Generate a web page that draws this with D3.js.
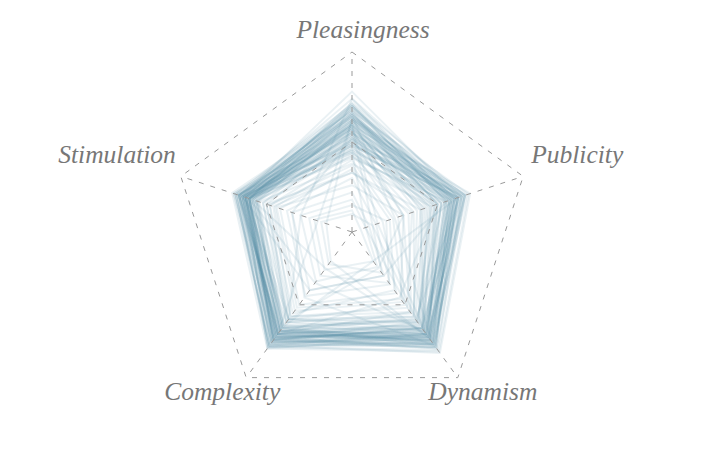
<!DOCTYPE html>
<html>
<head>
<meta charset="utf-8">
<script src="https://cdn.jsdelivr.net/npm/d3@7"></script>
<style>
  html, body { margin: 0; padding: 0; background: #fff; }
  svg { display: block; }
</style>
</head>
<body>
<svg id="chart" width="709" height="473"></svg>
<script>
// Axes, clockwise from the top
const axes = ['Pleasingness', 'Publicity', 'Dynamism', 'Complexity', 'Stimulation'];

// One value per profile on each axis (0..1)
const pleasingness = [.78,.74,.72,.71,.70,.69,.68,.67,.66,.66,.65,.64,.64,.63,.62,.62,.61,.60,.60,.59,.59,.58,.58,.57,.56,.56,.55,.54,.54,.53,.52,.52,.51,.50,.50,.49,.48,.47,.46,.45,.44,.43,.42,.40,.38,.35,.33,.30,.26,.22,.18,.15,.12,.10,.62,.65,.61,.57,.53,.51,.48,.46,.70,.67,.63,.59,.55,.49,.44,.41,.37,.33,.60,.65,.70,.55,.62,.48,.74,.58,.66,.52,.60,.71,.68,.64,.57,.63,.69,.45];
const publicity    = [.62,.58,.66,.55,.60,.64,.52,.68,.57,.48,.63,.59,.50,.66,.45,.61,.54,.62,.47,.69,.56,.44,.60,.52,.64,.38,.58,.49,.62,.41,.55,.30,.60,.46,.53,.65,.36,.50,.27,.57,.43,.33,.52,.24,.46,.18,.40,.14,.30,.10,.08,.20,.05,.12,.63,.56,.59,.67,.61,.57,.62,.54,.60,.50,.65,.42,.64,.58,.48,.55,.22,.35,.15,.25,.55,.60,.58,.62,.64,.12,.50,.66,.40,.62,.59,.66,.30,.61,.57,.08];
const dynamism     = [.74,.70,.80,.76,.66,.78,.72,.82,.68,.74,.60,.77,.70,.75,.64,.79,.71,.68,.62,.83,.73,.66,.76,.69,.72,.58,.74,.67,.78,.63,.70,.55,.75,.68,.61,.77,.59,.72,.50,.69,.64,.56,.66,.48,.62,.42,.58,.36,.46,.30,.24,.35,.20,.28,.73,.80,.70,.76,.79,.67,.74,.71,.72,.65,.77,.60,.81,.73,.66,.70,.40,.52,.70,.75,.30,.72,.76,.20,.66,.62,.45,.78,.68,.74,.79,.71,.25,.73,.77,.55];
const complexity   = [.70,.76,.72,.78,.74,.66,.70,.80,.62,.75,.68,.73,.64,.79,.70,.77,.67,.72,.60,.78,.71,.74,.65,.69,.80,.62,.72,.66,.75,.70,.76,.58,.68,.73,.64,.79,.66,.71,.60,.74,.68,.62,.70,.54,.65,.50,.60,.44,.52,.40,.34,.30,.26,.22,.68,.74,.78,.71,.76,.73,.69,.77,.67,.71,.74,.66,.79,.72,.75,.68,.56,.58,.72,.68,.40,.25,.70,.65,.60,.74,.70,.45,.35,.76,.73,.78,.60,.20,.75,.70];
const stimulation  = [.64,.66,.60,.68,.62,.58,.65,.70,.63,.60,.57,.66,.61,.67,.55,.64,.62,.59,.56,.69,.63,.60,.58,.66,.62,.52,.64,.57,.61,.59,.65,.50,.60,.63,.55,.67,.58,.62,.52,.61,.56,.48,.60,.45,.54,.42,.50,.38,.44,.35,.30,.25,.22,.18,.66,.69,.64,.62,.67,.63,.65,.61,.63,.66,.60,.59,.68,.64,.62,.60,.48,.46,.62,.60,.64,.58,.20,.56,.30,.66,.63,.35,.60,.66,.65,.68,.62,.15,.60,.64];

const series = [pleasingness, publicity, dynamism, complexity, stimulation];
const gridLevels = [0.5, 1];

// Layout
const cx = 352;
const cy = 232;
const radius = 180;

// label placement relative to the outer vertex
const labelAnchor = ['middle', 'start', 'middle', 'middle', 'end'];
const labelDx = [11, 8, 25, -24, -5];
const labelDy = [-14, -13, 22, 22, -13];

const svg = d3.select('#chart');
const g = svg.append('g').attr('transform', `translate(${cx},${cy})`);

const r = d3.scaleLinear().domain([0, 1]).range([0, radius]);
const angle = d3.scalePoint().domain(axes).range([0, 2 * Math.PI * 4 / 5]);

function point(axis, v) {
    const a = angle(axis);
    return [r(v) * Math.sin(a), -r(v) * Math.cos(a)];
}

const line = d3.line().curve(d3.curveLinearClosed);

// Profiles
const profiles = d3.range(pleasingness.length).map(i => axes.map((a, k) => point(a, series[k][i])));

g.append('g')
    .selectAll('path')
    .data(profiles)
    .join('path')
    .attr('d', line)
    .attr('fill', 'none')
    .attr('stroke', '#4f8ca3')
    .attr('stroke-opacity', 0.12)
    .attr('stroke-width', 2)
    .attr('stroke-linejoin', 'miter');

// Grid pentagons
g.append('g')
    .selectAll('path')
    .data(gridLevels)
    .join('path')
    .attr('d', lv => line(axes.map(a => point(a, lv))))
    .attr('fill', 'none')
    .attr('stroke', '#999')
    .attr('stroke-width', 1)
    .attr('stroke-dasharray', '5,7');

// Axis spokes
g.append('g')
    .selectAll('line')
    .data(axes)
    .join('line')
    .attr('x1', 0)
    .attr('y1', 0)
    .attr('x2', a => point(a, 1)[0])
    .attr('y2', a => point(a, 1)[1])
    .attr('stroke', '#999')
    .attr('stroke-width', 1)
    .attr('stroke-dasharray', '5,7');

// Labels
g.append('g')
    .selectAll('text')
    .data(axes)
    .join('text')
    .attr('x', (a, i) => point(a, 1)[0] + labelDx[i])
    .attr('y', (a, i) => point(a, 1)[1] + labelDy[i])
    .attr('text-anchor', (a, i) => labelAnchor[i])
    .attr('font-family', '"Liberation Serif", "Times New Roman", serif')
    .attr('font-style', 'italic')
    .attr('font-size', 25.5)
    .attr('fill', '#777')
    .text(a => a);
</script>
</body>
</html>
